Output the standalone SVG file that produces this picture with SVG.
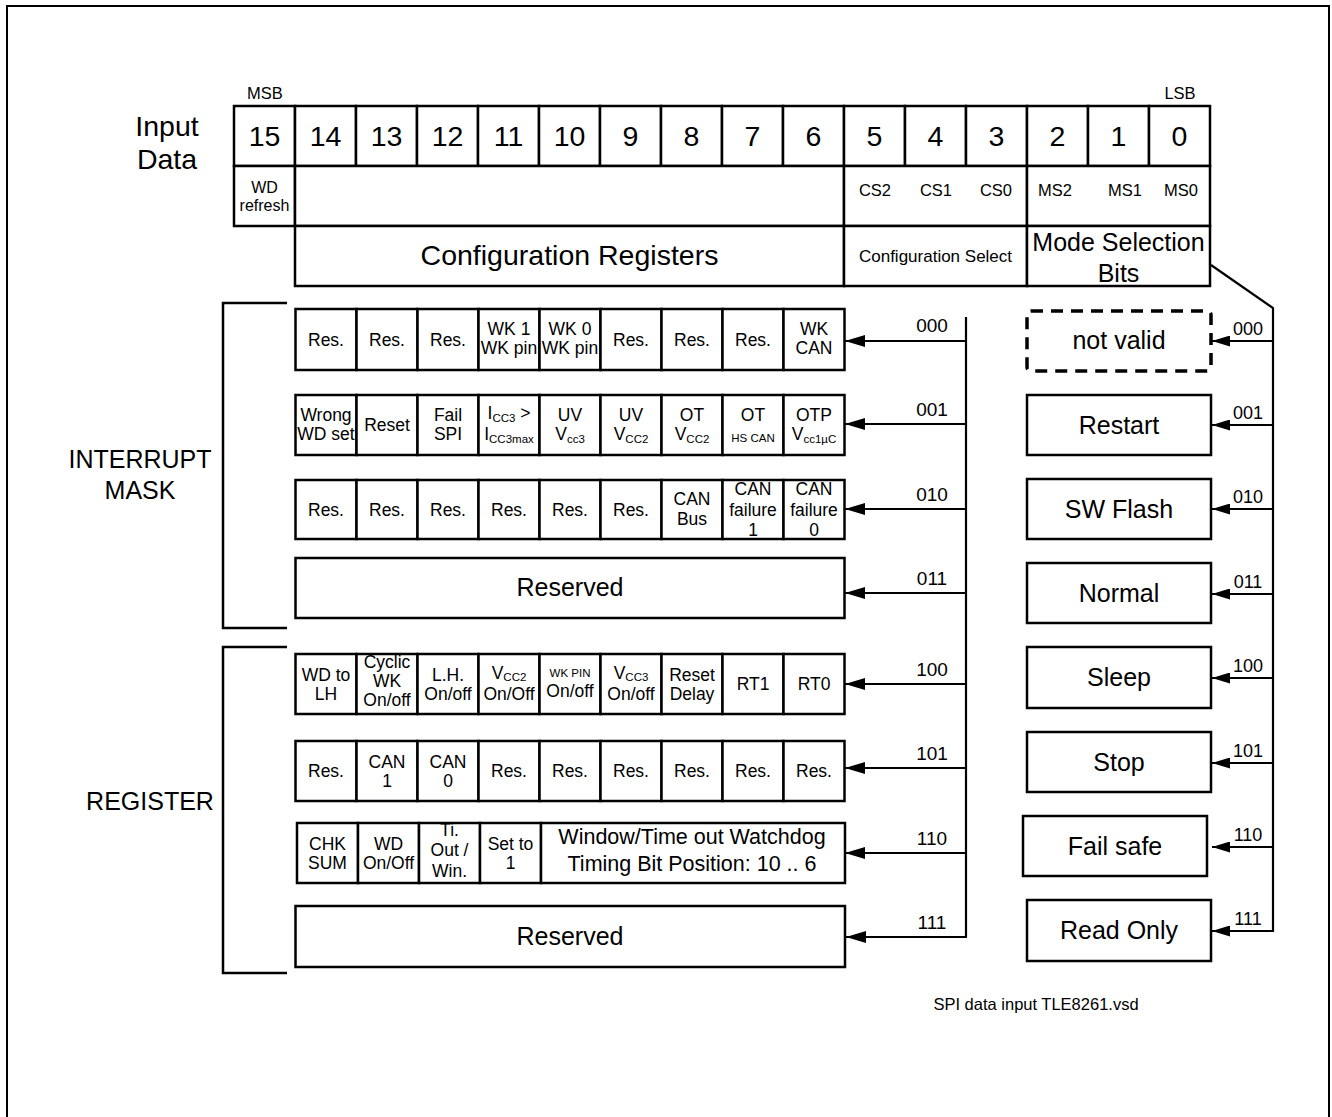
<svg xmlns="http://www.w3.org/2000/svg" width="1332" height="1117" viewBox="0 0 1332 1117">
<defs>
<style>
text{font-family:"Liberation Sans",Arial,sans-serif;fill:#000;text-anchor:middle}
.b{fill:#fff;stroke:#000;stroke-width:2.5}
.ln{fill:none;stroke:#000;stroke-width:2.2}
.big{font-size:28.5px}
.m{font-size:25px}
.s{font-size:17.5px}
.xs{font-size:11.5px}
.lbl{font-size:19px}
.rl{font-size:18px}
.hdr{font-size:16.5px}
</style>
<marker id="ah" markerUnits="userSpaceOnUse" markerWidth="20" markerHeight="12" refX="20" refY="6" orient="auto"><path d="M0,0 L20,6 L0,12 Z" fill="#000"/></marker>
<marker id="ah2" markerUnits="userSpaceOnUse" markerWidth="18" markerHeight="11" refX="18" refY="5.5" orient="auto"><path d="M0,0 L18,5.5 L0,11 Z" fill="#000"/></marker>
</defs>
<rect x="7" y="6" width="1322" height="1130" fill="none" stroke="#000" stroke-width="2"/>

<g id="header">
<text class="big" x="167" y="136">Input</text>
<text class="big" x="167" y="169">Data</text>
<text class="hdr" x="265" y="99">MSB</text>
<text class="hdr" x="1180" y="99">LSB</text>
<rect class="b" x="234" y="106" width="61" height="60"/><text class="big" x="264.5" y="146">15</text>
<rect class="b" x="295" y="106" width="61" height="60"/><text class="big" x="325.5" y="146">14</text>
<rect class="b" x="356" y="106" width="61" height="60"/><text class="big" x="386.5" y="146">13</text>
<rect class="b" x="417" y="106" width="61" height="60"/><text class="big" x="447.5" y="146">12</text>
<rect class="b" x="478" y="106" width="61" height="60"/><text class="big" x="508.5" y="146">11</text>
<rect class="b" x="539" y="106" width="61" height="60"/><text class="big" x="569.5" y="146">10</text>
<rect class="b" x="600" y="106" width="61" height="60"/><text class="big" x="630.5" y="146">9</text>
<rect class="b" x="661" y="106" width="61" height="60"/><text class="big" x="691.5" y="146">8</text>
<rect class="b" x="722" y="106" width="61" height="60"/><text class="big" x="752.5" y="146">7</text>
<rect class="b" x="783" y="106" width="61" height="60"/><text class="big" x="813.5" y="146">6</text>
<rect class="b" x="844" y="106" width="61" height="60"/><text class="big" x="874.5" y="146">5</text>
<rect class="b" x="905" y="106" width="61" height="60"/><text class="big" x="935.5" y="146">4</text>
<rect class="b" x="966" y="106" width="61" height="60"/><text class="big" x="996.5" y="146">3</text>
<rect class="b" x="1027" y="106" width="61" height="60"/><text class="big" x="1057.5" y="146">2</text>
<rect class="b" x="1088" y="106" width="61" height="60"/><text class="big" x="1118.5" y="146">1</text>
<rect class="b" x="1149" y="106" width="61" height="60"/><text class="big" x="1179.5" y="146">0</text>

<rect class="b" x="234" y="166" width="61" height="60"/>
<text x="264.5" y="193" style="font-size:16px">WD</text>
<text x="264.5" y="211" style="font-size:16px">refresh</text>
<rect class="b" x="295" y="166" width="549" height="60"/>
<rect class="b" x="844" y="166" width="183" height="60"/>
<text class="hdr" x="875" y="196">CS2</text>
<text class="hdr" x="936" y="196">CS1</text>
<text class="hdr" x="996" y="196">CS0</text>
<rect class="b" x="1027" y="166" width="183" height="60"/>
<text class="hdr" x="1055" y="196">MS2</text>
<text class="hdr" x="1125" y="196">MS1</text>
<text class="hdr" x="1181" y="196">MS0</text>

<rect class="b" x="295" y="226" width="549" height="60"/>
<text class="big" x="569.5" y="265">Configuration Registers</text>
<rect class="b" x="844" y="226" width="183" height="60"/>
<text x="935.5" y="262" style="font-size:17px">Configuration Select</text>
<rect class="b" x="1027" y="226" width="183" height="60"/>
<text class="m" x="1118.5" y="251">Mode Selection</text>
<text class="m" x="1118.5" y="282">Bits</text>
</g>

<g id="brackets">
<text class="m" x="140" y="468">INTERRUPT</text>
<text class="m" x="140" y="499">MASK</text>
<path class="ln" style="stroke-width:2.5" d="M287,303 H223 V628 H287"/>
<text class="m" x="150" y="810">REGISTER</text>
<path class="ln" style="stroke-width:2.5" d="M287,647 H223 V973 H287"/>
</g>

<g id="row000" class="s">
<rect class="b" x="295.5" y="309" width="61" height="61"/><text x="326" y="345.5">Res.</text>
<rect class="b" x="356.5" y="309" width="61" height="61"/><text x="387" y="345.5">Res.</text>
<rect class="b" x="417.5" y="309" width="61" height="61"/><text x="448" y="345.5">Res.</text>
<rect class="b" x="478.5" y="309" width="61" height="61"/><text x="509" y="335">WK 1</text><text x="509" y="354">WK pin</text>
<rect class="b" x="539.5" y="309" width="61" height="61"/><text x="570" y="335">WK 0</text><text x="570" y="354">WK pin</text>
<rect class="b" x="600.5" y="309" width="61" height="61"/><text x="631" y="345.5">Res.</text>
<rect class="b" x="661.5" y="309" width="61" height="61"/><text x="692" y="345.5">Res.</text>
<rect class="b" x="722.5" y="309" width="61" height="61"/><text x="753" y="345.5">Res.</text>
<rect class="b" x="783.5" y="309" width="61" height="61"/><text x="814" y="335">WK</text><text x="814" y="354">CAN</text>
</g>

<g id="row001" class="s">
<rect class="b" x="295.5" y="395" width="61" height="60"/><text x="326" y="421">Wrong</text><text x="326" y="440">WD set</text>
<rect class="b" x="356.5" y="395" width="61" height="60"/><text x="387" y="431">Reset</text>
<rect class="b" x="417.5" y="395" width="61" height="60"/><text x="448" y="421">Fail</text><text x="448" y="440">SPI</text>
<rect class="b" x="478.5" y="395" width="61" height="60"/><text x="509" y="419">I<tspan font-size="11.5" dy="3">CC3</tspan><tspan dy="-3"> &gt;</tspan></text><text x="509" y="440">I<tspan font-size="11.5" dy="3">CC3max</tspan></text>
<rect class="b" x="539.5" y="395" width="61" height="60"/><text x="570" y="421">UV</text><text x="570" y="440">V<tspan font-size="11.5" dy="3">cc3</tspan></text>
<rect class="b" x="600.5" y="395" width="61" height="60"/><text x="631" y="421">UV</text><text x="631" y="440">V<tspan font-size="11.5" dy="3">CC2</tspan></text>
<rect class="b" x="661.5" y="395" width="61" height="60"/><text x="692" y="421">OT</text><text x="692" y="440">V<tspan font-size="11.5" dy="3">CC2</tspan></text>
<rect class="b" x="722.5" y="395" width="61" height="60"/><text x="753" y="421">OT</text><text class="xs" x="753" y="442">HS CAN</text>
<rect class="b" x="783.5" y="395" width="61" height="60"/><text x="814" y="421">OTP</text><text x="814" y="440">V<tspan font-size="11.5" dy="3">cc1µC</tspan></text>
</g>

<g id="row010" class="s">
<rect class="b" x="295.5" y="480" width="61" height="59"/><text x="326" y="515.5">Res.</text>
<rect class="b" x="356.5" y="480" width="61" height="59"/><text x="387" y="515.5">Res.</text>
<rect class="b" x="417.5" y="480" width="61" height="59"/><text x="448" y="515.5">Res.</text>
<rect class="b" x="478.5" y="480" width="61" height="59"/><text x="509" y="515.5">Res.</text>
<rect class="b" x="539.5" y="480" width="61" height="59"/><text x="570" y="515.5">Res.</text>
<rect class="b" x="600.5" y="480" width="61" height="59"/><text x="631" y="515.5">Res.</text>
<rect class="b" x="661.5" y="480" width="61" height="59"/><text x="692" y="505">CAN</text><text x="692" y="525">Bus</text>
<rect class="b" x="722.5" y="480" width="61" height="59"/><text x="753" y="495">CAN</text><text x="753" y="516">failure</text><text x="753" y="536">1</text>
<rect class="b" x="783.5" y="480" width="61" height="59"/><text x="814" y="495">CAN</text><text x="814" y="516">failure</text><text x="814" y="536">0</text>
</g>

<g id="row011">
<rect class="b" x="295.5" y="558" width="549" height="60"/><text class="m" x="570" y="596">Reserved</text>
</g>

<g id="row100" class="s">
<rect class="b" x="295.5" y="654" width="61" height="60"/><text x="326" y="680.5">WD to</text><text x="326" y="699.5">LH</text>
<rect class="b" x="356.5" y="654" width="61" height="60"/><text x="387" y="668">Cyclic</text><text x="387" y="687">WK</text><text x="387" y="706">On/off</text>
<rect class="b" x="417.5" y="654" width="61" height="60"/><text x="448" y="680.5">L.H.</text><text x="448" y="699.5">On/off</text>
<rect class="b" x="478.5" y="654" width="61" height="60"/><text x="509" y="678.5">V<tspan font-size="11.5" dy="2">CC2</tspan></text><text x="509" y="699.5">On/Off</text>
<rect class="b" x="539.5" y="654" width="61" height="60"/><text class="xs" x="570" y="677">WK PIN</text><text x="570" y="697">On/off</text>
<rect class="b" x="600.5" y="654" width="61" height="60"/><text x="631" y="678.5">V<tspan font-size="11.5" dy="2">CC3</tspan></text><text x="631" y="699.5">On/off</text>
<rect class="b" x="661.5" y="654" width="61" height="60"/><text x="692" y="680.5">Reset</text><text x="692" y="699.5">Delay</text>
<rect class="b" x="722.5" y="654" width="61" height="60"/><text x="753" y="690">RT1</text>
<rect class="b" x="783.5" y="654" width="61" height="60"/><text x="814" y="690">RT0</text>
</g>

<g id="row101" class="s">
<rect class="b" x="295.5" y="741" width="61" height="60"/><text x="326" y="777">Res.</text>
<rect class="b" x="356.5" y="741" width="61" height="60"/><text x="387" y="767.5">CAN</text><text x="387" y="786.5">1</text>
<rect class="b" x="417.5" y="741" width="61" height="60"/><text x="448" y="767.5">CAN</text><text x="448" y="786.5">0</text>
<rect class="b" x="478.5" y="741" width="61" height="60"/><text x="509" y="777">Res.</text>
<rect class="b" x="539.5" y="741" width="61" height="60"/><text x="570" y="777">Res.</text>
<rect class="b" x="600.5" y="741" width="61" height="60"/><text x="631" y="777">Res.</text>
<rect class="b" x="661.5" y="741" width="61" height="60"/><text x="692" y="777">Res.</text>
<rect class="b" x="722.5" y="741" width="61" height="60"/><text x="753" y="777">Res.</text>
<rect class="b" x="783.5" y="741" width="61" height="60"/><text x="814" y="777">Res.</text>
</g>

<g id="row110" class="s">
<rect class="b" x="297" y="823" width="61" height="60"/><text x="327.5" y="849.5">CHK</text><text x="327.5" y="868.5">SUM</text>
<rect class="b" x="358" y="823" width="61" height="60"/><text x="388.5" y="849.5">WD</text><text x="388.5" y="868.5">On/Off</text>
<rect class="b" x="419" y="823" width="61" height="60"/><text x="449.5" y="836">Ti.</text><text x="449.5" y="856">Out /</text><text x="449.5" y="877">Win.</text>
<rect class="b" x="480" y="823" width="61" height="60"/><text x="510.5" y="849.5">Set to</text><text x="510.5" y="868.5">1</text>
<rect class="b" x="541" y="823" width="304" height="60"/><text x="692" y="844" style="font-size:21.5px">Window/Time out Watchdog</text><text x="692" y="871" style="font-size:21.5px">Timing Bit Position: 10 .. 6</text>
</g>

<g id="row111">
<rect class="b" x="295.5" y="906" width="549.5" height="61"/><text class="m" x="570" y="945">Reserved</text>
</g>

<g id="modes" class="m">
<rect x="1027" y="311" width="184" height="60" rx="4" fill="#fff" stroke="#000" stroke-width="3.5" stroke-dasharray="12 8"/><text x="1119" y="349">not valid</text>
<rect class="b" x="1027" y="395" width="184" height="60"/><text x="1119" y="434">Restart</text>
<rect class="b" x="1027" y="479" width="184" height="60"/><text x="1119" y="518">SW Flash</text>
<rect class="b" x="1027" y="563" width="184" height="60"/><text x="1119" y="602">Normal</text>
<rect class="b" x="1027" y="647" width="184" height="61"/><text x="1119" y="686">Sleep</text>
<rect class="b" x="1027" y="732" width="184" height="60"/><text x="1119" y="771">Stop</text>
<rect class="b" x="1023" y="816" width="184" height="60"/><text x="1115" y="855">Fail safe</text>
<rect class="b" x="1027" y="900" width="184" height="61"/><text x="1119" y="939">Read Only</text>
</g>

<g id="connectors">
<line class="ln" x1="966" y1="317" x2="966" y2="937"/>
<line class="ln" x1="966" y1="341" x2="845" y2="341" marker-end="url(#ah)"/>
<line class="ln" x1="966" y1="424" x2="845" y2="424" marker-end="url(#ah)"/>
<line class="ln" x1="966" y1="509" x2="845" y2="509" marker-end="url(#ah)"/>
<line class="ln" x1="966" y1="593" x2="845" y2="593" marker-end="url(#ah)"/>
<line class="ln" x1="966" y1="684" x2="845" y2="684" marker-end="url(#ah)"/>
<line class="ln" x1="966" y1="768" x2="845" y2="768" marker-end="url(#ah)"/>
<line class="ln" x1="966" y1="853" x2="845" y2="853" marker-end="url(#ah)"/>
<path class="ln" d="M967,937 H846" marker-end="url(#ah)"/>
<text class="lbl" x="932" y="332">000</text>
<text class="lbl" x="932" y="416">001</text>
<text class="lbl" x="932" y="501">010</text>
<text class="lbl" x="932" y="585">011</text>
<text class="lbl" x="932" y="676">100</text>
<text class="lbl" x="932" y="760">101</text>
<text class="lbl" x="932" y="845">110</text>
<text class="lbl" x="932" y="929">111</text>

<path class="ln" d="M1211,265 L1273,308 V932"/>
<line class="ln" x1="1273" y1="341" x2="1212" y2="341" marker-end="url(#ah2)"/>
<line class="ln" x1="1273" y1="425" x2="1212" y2="425" marker-end="url(#ah2)"/>
<line class="ln" x1="1273" y1="509" x2="1212" y2="509" marker-end="url(#ah2)"/>
<line class="ln" x1="1273" y1="594" x2="1212" y2="594" marker-end="url(#ah2)"/>
<line class="ln" x1="1273" y1="678" x2="1212" y2="678" marker-end="url(#ah2)"/>
<line class="ln" x1="1273" y1="763" x2="1212" y2="763" marker-end="url(#ah2)"/>
<line class="ln" x1="1273" y1="847" x2="1212" y2="847" marker-end="url(#ah2)"/>
<line class="ln" x1="1274" y1="931" x2="1212" y2="931" marker-end="url(#ah2)"/>
<text class="rl" x="1248" y="335">000</text>
<text class="rl" x="1248" y="419">001</text>
<text class="rl" x="1248" y="503">010</text>
<text class="rl" x="1248" y="588">011</text>
<text class="rl" x="1248" y="672">100</text>
<text class="rl" x="1248" y="757">101</text>
<text class="rl" x="1248" y="841">110</text>
<text class="rl" x="1248" y="925">111</text>
</g>

<text x="1036" y="1010" style="font-size:16.5px">SPI data input TLE8261.vsd</text>
</svg>
